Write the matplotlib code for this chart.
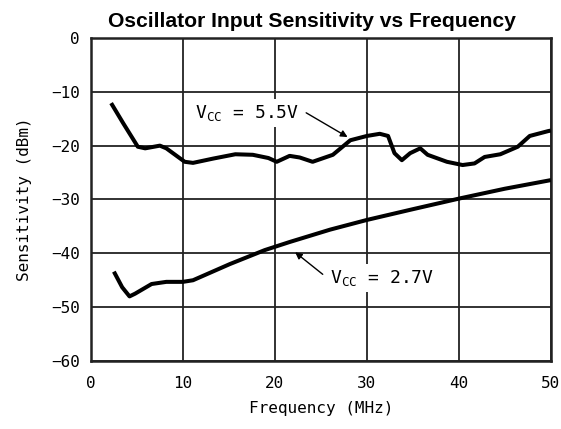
import matplotlib
matplotlib.use("Agg")
from matplotlib import pyplot as plt

# Vcc = 5.5 V curve (frequency in MHz, sensitivity in dBm)
f_55 = [2.2, 3.5, 5.1, 5.9, 7.5, 8.2, 10.2, 11.1, 13.3, 15.7, 17.6, 19.3, 20.2,
        21.6, 22.7, 24.1, 26.3, 28.2, 30.0, 31.4, 32.3, 33.0, 33.8, 34.7, 35.8,
        36.6, 38.7, 40.4, 41.7, 42.8, 44.5, 46.4, 47.7, 49.7, 50.0]
s_55 = [-12.1, -15.8, -20.2, -20.5, -20.0, -20.5, -23.0, -23.2, -22.4, -21.6,
        -21.7, -22.3, -23.0, -21.9, -22.2, -23.0, -21.7, -19.0, -18.2, -17.8,
        -18.2, -21.4, -22.7, -21.4, -20.5, -21.7, -23.0, -23.6, -23.3, -22.1,
        -21.6, -20.2, -18.2, -17.3, -17.2]

# Vcc = 2.7 V curve
f_27 = [2.5, 3.4, 4.2, 4.8, 6.6, 8.2, 10.0, 11.1, 15.1, 18.9, 21.6, 26.0,
        30.0, 35.0, 40.1, 45.0, 50.0]
s_27 = [-43.4, -46.3, -48.0, -47.5, -45.7, -45.3, -45.3, -45.0, -42.0, -39.4,
        -37.9, -35.6, -33.8, -31.8, -29.8, -28.0, -26.4]

xticks = [0, 10, 20, 30, 40, 50]
yticks = [0, -10, -20, -30, -40, -50, -60]

plt.rcParams['font.family'] = ['DejaVu Sans Mono']

fig = plt.figure(figsize=(5.61, 4.29), dpi=100)
ax = fig.add_axes([0.162, 0.1585, 0.820, 0.753])

ax.plot(f_55, s_55, color='black', linewidth=2.9, solid_capstyle='butt', zorder=3)
ax.plot(f_27, s_27, color='black', linewidth=2.9, solid_capstyle='butt', zorder=3)

ax.set_xlim(0, 50)
ax.set_ylim(-60, 0)
ax.set_xticks(xticks)
ax.set_yticks(yticks)
ax.set_yticklabels(['0', '\u221210', '\u221220', '\u221230', '\u221240', '\u221250', '\u221260'])
ax.tick_params(length=0, labelsize=11.5)
ax.tick_params(axis='y', pad=8)
ax.tick_params(axis='x', pad=11)
ax.grid(True, color='#222222', linewidth=1.3)
ax.set_axisbelow(True)
for s in ax.spines.values():
    s.set_linewidth(1.8)
    s.set_color('#222222')

ax.set_xlabel('Frequency (MHz)', fontsize=11.5)
ax.set_ylabel('Sensitivity (dBm)', fontsize=11.5)
ax.xaxis.set_label_coords(0.5, -0.125)
ax.yaxis.set_label_coords(-0.128, 0.5)
fig.text(0.556, 0.937, 'Oscillator Input Sensitivity vs Frequency', fontsize=15.2,
         fontweight='bold', family='Liberation Sans', ha='center', va='baseline')

box = dict(facecolor='white', edgecolor='none', pad=3)
ax.text(11.3, -14.9, r'V$_{\mathregular{CC}}$ = 5.5V', fontsize=13,
        va='baseline', ha='left', bbox=box, zorder=4)
ax.text(26.0, -45.5, r'V$_{\mathregular{CC}}$ = 2.7V', fontsize=13,
        va='baseline', ha='left', bbox=box, zorder=4)

arrow = dict(arrowstyle='-|>', color='black', lw=1.0, shrinkA=0, shrinkB=0,
             mutation_scale=10)
ax.annotate('', xy=(27.9, -18.4), xytext=(23.4, -13.9), arrowprops=arrow, zorder=4)
ax.annotate('', xy=(22.2, -39.8), xytext=(25.2, -43.9), arrowprops=arrow, zorder=4)

plt.savefig("out.png", dpi=100)
